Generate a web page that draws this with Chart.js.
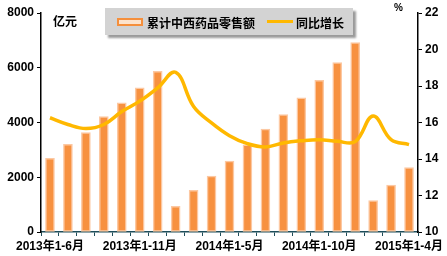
<!DOCTYPE html>
<html>
<head>
<meta charset="utf-8">
<script src="https://cdn.jsdelivr.net/npm/chart.js@4"></script>
<style>
  html, body { margin: 0; padding: 0; background: #fff; }
  #wrap { position: relative; width: 447px; height: 256px; }
  .txt { position: absolute; font-family: "Liberation Sans", "Noto Sans CJK SC", sans-serif; font-weight: bold; color: #000; }
  #legend { position: absolute; left: 105px; top: 8px; width: 248px; height: 27px; background: #d3d3d3;
            box-shadow: 3px 3px 2px #9a9a9a; font-family: "Liberation Sans", "Noto Sans CJK SC", sans-serif;
            font-weight: bold; font-size: 12px; color: #000; }
  #legend .sym1 { position: absolute; left: 12px; top: 10px; width: 22px; height: 4px; border: 2px solid #f58f3c; background: #fde3cc; }
  #legend .sym2 { position: absolute; left: 162px; top: 12px; width: 26px; height: 3px; background: #ffb800; }
  #legend .t { position: absolute; top: 6px; }
</style>
</head>
<body>
<div id="wrap">
  <canvas id="chart" width="447" height="256"></canvas>
  <div class="txt" style="left:53px;top:12px;font-size:12px;">亿元</div>
  <div class="txt" style="left:394px;top:2px;font-size:10px;">%</div>
  <div id="legend">
    <div class="sym1"></div><div class="t" style="left:42px;">累计中西药品零售额</div>
    <div class="sym2"></div><div class="t" style="left:191px;">同比增长</div>
  </div>
</div>
<script>
// 累计中西药品零售额 (亿元) 与同比增长 (%)
var categories = ['2013年1-6月', '2013年1-7月', '2013年1-8月', '2013年1-9月', '2013年1-10月', '2013年1-11月', '2013年1-12月',
  '2014年1-2月', '2014年1-3月', '2014年1-4月', '2014年1-5月', '2014年1-6月', '2014年1-7月', '2014年1-8月',
  '2014年1-9月', '2014年1-10月', '2014年1-11月', '2014年1-12月', '2015年1-2月', '2015年1-3月', '2015年1-4月'];
var sales = [2690, 3200, 3630, 4220, 4720, 5270, 5870, 940, 1520, 2040, 2590, 3180, 3760, 4290, 4900, 5540, 6190, 6920, 1150, 1710, 2350];
var growth = [16.26, 15.89, 15.67, 15.89, 16.6, 17.17, 17.9, 18.75, 16.88, 15.98, 15.28, 14.84, 14.66, 14.88, 15.0, 15.06, 14.97, 14.95, 16.35, 15.06, 14.79];
var leftTicks = [0, 2000, 4000, 6000, 8000];
var rightTicks = [10, 12, 14, 16, 18, 20, 22];

var fontFamily = '"Liberation Sans", "Noto Sans CJK SC", sans-serif';

new Chart(document.getElementById('chart'), {
  data: {
    labels: categories,
    datasets: [{
      type: 'line',
      label: '同比增长',
      data: growth,
      yAxisID: 'y2',
      borderColor: '#ffb800',
      borderWidth: 3.5,
      pointRadius: 0,
      tension: 0.4,
      fill: false
    }, {
      type: 'bar',
      label: '累计中西药品零售额',
      data: sales,
      yAxisID: 'y',
      backgroundColor: '#f79140',
      borderColor: '#fcc8a2',
      borderWidth: 1.5,
      borderSkipped: false,
      barThickness: 9
    }]
  },
  options: {
    responsive: false,
    animation: false,
    layout: { padding: { top: 13, left: 0, right: 0, bottom: 0 } },
    plugins: { legend: { display: false }, tooltip: { enabled: false } },
    scales: {
      x: {
        grid: { display: true, drawOnChartArea: false, tickLength: 4, color: '#1f4e5a' },
        border: { color: '#1f4e5a', width: 1.5 },
        ticks: {
          autoSkip: false, maxRotation: 0, color: '#000', padding: 3,
          font: { family: fontFamily, size: 12, weight: 'bold' },
          callback: function (v, i) { return i % 5 === 0 ? categories[i] : ''; }
        },
        afterFit: function (s) { s.height = 24; }
      },
      y: {
        position: 'left', min: 0, max: 8000,
        afterBuildTicks: function (s) { s.ticks = leftTicks.map(function (v) { return { value: v }; }); },
        grid: { drawOnChartArea: false, tickLength: 4, color: '#000' },
        border: { color: '#000', width: 1.5 },
        ticks: { color: '#000', padding: 3, font: { family: fontFamily, size: 12, weight: 'bold' },
          callback: function (v) { return String(v); } },
        afterFit: function (s) { s.width = 41; }
      },
      y2: {
        position: 'right', min: 10, max: 22,
        afterBuildTicks: function (s) { s.ticks = rightTicks.map(function (v) { return { value: v }; }); },
        grid: { drawOnChartArea: false, tickLength: 4, color: '#000' },
        border: { color: '#000', width: 1.5 },
        ticks: { color: '#000', padding: 3, font: { family: fontFamily, size: 12, weight: 'bold' },
          callback: function (v) { return String(v); } },
        afterFit: function (s) { s.width = 29; }
      }
    }
  }
});
</script>
</body>
</html>
